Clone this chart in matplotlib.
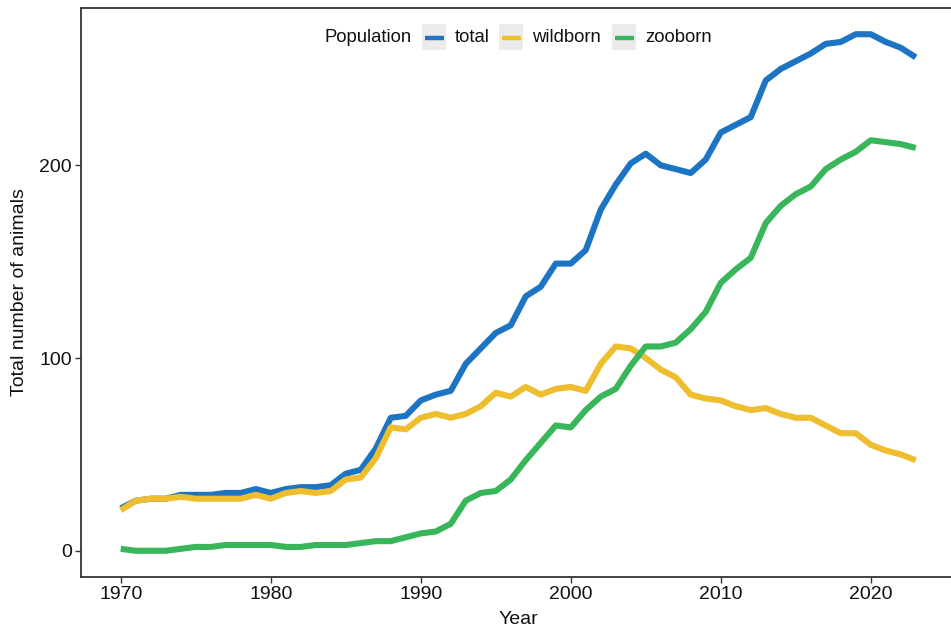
import matplotlib
matplotlib.use("Agg")
import matplotlib.pyplot as plt
from matplotlib.patches import Rectangle
from matplotlib.lines import Line2D

plt.rcParams['font.family'] = ['Liberation Sans', 'DejaVu Sans']

years = list(range(1970, 2024))
total = [22, 26, 27, 27, 29, 29, 29, 30, 30, 32,
         30, 32, 33, 33, 34, 40, 42, 53, 69, 70,
         78, 81, 83, 97, 105, 113, 117, 132, 137, 149,
         149, 156, 177, 190, 201, 206, 200, 198, 196, 203,
         217, 221, 225, 244, 250, 254, 258, 263, 264, 268,
         268, 264, 261, 256]
wildborn = [21, 26, 27, 27, 28, 27, 27, 27, 27, 29,
            27, 30, 31, 30, 31, 37, 38, 48, 64, 63,
            69, 71, 69, 71, 75, 82, 80, 85, 81, 84,
            85, 83, 97, 106, 105, 100, 94, 90, 81, 79,
            78, 75, 73, 74, 71, 69, 69, 65, 61, 61,
            55, 52, 50, 47]
zooborn = [1, 0, 0, 0, 1, 2, 2, 3, 3, 3,
           3, 2, 2, 3, 3, 3, 4, 5, 5, 7,
           9, 10, 14, 26, 30, 31, 37, 47, 56, 65,
           64, 73, 80, 84, 96, 106, 106, 108, 115, 124,
           139, 146, 152, 170, 179, 185, 189, 198, 203, 207,
           213, 212, 211, 209]

series_names = ["total", "wildborn", "zooborn"]
series_vals = [total, wildborn, zooborn]
colors = ["#1C74C2", "#EEBE2E", "#3AB65A"]
legend_title = "Population"
x_ticks = [1970, 1980, 1990, 2000, 2010, 2020]
y_ticks = [0, 100, 200]

W, H = 951, 632
fig = plt.figure(figsize=(W / 100, H / 100), dpi=100)

def fx(x):
    return x / W

def fy(y):
    return 1 - y / H

left, right, top, bottom = 81.0, 955.5, 8.4, 576.6
ax = fig.add_axes([fx(left), fy(bottom), fx(right) - fx(left), fy(top) - fy(bottom)])

for name, vals, c in zip(series_names, series_vals, colors):
    ax.plot(years, vals, color=c, lw=4.4, solid_joinstyle='round',
            solid_capstyle='butt', label=name)

xr = years[-1] - years[0]
ax.set_xlim(years[0] - 0.05 * xr, years[-1] + 0.05 * xr)
ymax = max(total)
ax.set_ylim(-0.05 * ymax, ymax * 1.05)
ax.set_xticks(x_ticks)
ax.set_yticks(y_ticks)

for s in ax.spines.values():
    s.set_color("#333333")
    s.set_linewidth(1.3)

ax.tick_params(axis='both', length=4.5, width=1.0, color="#333333",
               labelsize=14, labelcolor="#111111", pad=2)
ax.set_xlabel("Year", fontsize=14, color="#111111", labelpad=6)
ax.set_ylabel("Total number of animals", fontsize=14, color="#111111", labelpad=8)

# legend, drawn ggplot style (title at left, grey key backgrounds)
ly = 38
fig.text(fx(325), fy(ly), legend_title, fontsize=13.3, color="#111111",
         ha='left', va='center')
key_x = [422, 499, 612]
for kx, name, c in zip(key_x, series_names, colors):
    fig.add_artist(Rectangle((fx(kx), fy(50)), fx(24), 26 / H,
                             transform=fig.transFigure, facecolor="#EBEBEB",
                             edgecolor='none'))
    fig.add_artist(Line2D([fx(kx + 2.5), fx(kx + 21.5)], [fy(ly), fy(ly)],
                          transform=fig.transFigure, color=c, lw=3.2,
                          solid_capstyle='butt'))
    fig.text(fx(kx + 33), fy(ly), name, fontsize=13.3, color="#111111",
             ha='left', va='center')

fig.savefig("out.png", dpi=100)
